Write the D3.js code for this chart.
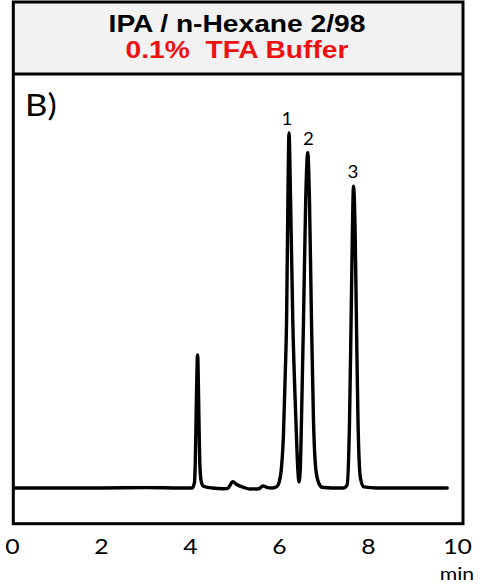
<!DOCTYPE html>
<html>
<head>
<meta charset="utf-8">
<script src="https://cdn.jsdelivr.net/npm/d3@7"></script>
<style>
  body { margin: 0; background: #fff; }
  svg { display: block; }
</style>
</head>
<body>
<main></main>
<script>
// chromatogram trace (min, signal)
const time = [0.07, 1.0, 2.0, 3.0, 3.8, 4.05, 4.10, 4.12, 4.14, 4.16, 4.17, 4.18, 4.20, 4.22, 4.25, 4.30,
  4.5, 4.75, 4.85, 4.92, 4.96, 5.05, 5.2, 5.35, 5.55, 5.64, 5.72, 5.85, 5.95, 6.0, 6.05, 6.10, 6.14, 6.17,
  6.20, 6.225, 6.26, 6.31, 6.38, 6.42, 6.45, 6.48, 6.505, 6.55, 6.60, 6.645, 6.685, 6.73, 6.775, 6.83,
  6.9, 6.97, 7.2, 7.45, 7.53, 7.585, 7.62, 7.65, 7.674, 7.71, 7.74, 7.775, 7.83, 7.91, 8.2, 9.0, 9.78];
const signal = [0, 0, 0, 0.1, 0, 0, 1.5, 8, 22, 35, 37.5, 35, 20, 7, 2, 0.5,
  0, -0.2, -0.1, 1.2, 1.8, 1.0, 0.2, -0.3, -0.2, 0.6, 0.2, 0, 0.4, 1.5, 5, 15, 32, 47,
  81, 100, 81, 47, 19, 6, 1.7, 6, 19, 47, 81, 94.4, 81, 47, 19, 5,
  1.2, 0.2, 0, 0, 0.8, 19, 47, 72.7, 85, 72.7, 47, 19, 2.8, 0.3, 0, 0, 0];

const peakNames = ["1", "2", "3"];
const peakTimes = [6.18, 6.66, 7.66];
const peakHeights = [100, 94.4, 85];

const xTicks = [0, 2, 4, 6, 8, 10];
const titleLine1 = "IPA / n-Hexane 2/98";
const titleLine2 = "0.1%\u00a0 TFA Buffer";
const panelLabel = "B)";
const unitLabel = "min";

const w = 484, h = 587;
const stretch = 1.2; // the picture is drawn a bit wide, so are its letters

const svg = d3.select("main").append("svg")
  .attr("width", w)
  .attr("height", h);

const xScale = d3.scaleLinear().domain([0, 10]).range([12, 457]);
const yScale = d3.scaleLinear().domain([-10, 116.6]).range([523.5, 74]);

// header band
svg.append("rect")
  .attr("x", 13.3).attr("y", 2)
  .attr("width", 449.7).attr("height", 72)
  .attr("fill", "#f2f2f2");

// outer frame + separator
svg.append("rect")
  .attr("x", 13.3).attr("y", 2)
  .attr("width", 449.7).attr("height", 521.7)
  .attr("fill", "none")
  .attr("stroke", "#000")
  .attr("stroke-width", 3);
svg.append("line")
  .attr("x1", 13.3).attr("x2", 463)
  .attr("y1", 74).attr("y2", 74)
  .attr("stroke", "#000")
  .attr("stroke-width", 3);

// titles
const title = svg.append("g").attr("transform", "translate(237,0)");
title.append("text")
  .attr("transform", `translate(0,32) scale(${stretch},1)`)
  .attr("text-anchor", "middle")
  .style("font-family", "'Liberation Sans', Arial, sans-serif")
  .style("font-weight", "bold")
  .style("font-size", "23.5px")
  .attr("fill", "#000")
  .text(titleLine1);
title.append("text")
  .attr("transform", `translate(0,57.5) scale(${stretch},1)`)
  .attr("text-anchor", "middle")
  .style("font-family", "'Liberation Sans', Arial, sans-serif")
  .style("font-weight", "bold")
  .style("font-size", "23.5px")
  .attr("fill", "#ee1111")
  .text(titleLine2);

// panel label
svg.append("text")
  .attr("transform", `translate(25,116) scale(1.12,1)`)
  .style("font-family", "Lato, sans-serif")
  .style("font-size", "31px")
  .attr("fill", "#000")
  .text(panelLabel);

// trace
const data = time.map((t, i) => ({ t: t, s: signal[i] }));
const line = d3.line()
  .x(d => xScale(d.t))
  .y(d => yScale(d.s))
  .curve(d3.curveMonotoneX);

svg.append("path")
  .datum(data)
  .attr("d", line)
  .attr("fill", "none")
  .attr("stroke", "#000")
  .attr("stroke-width", 3.4)
  .attr("stroke-linejoin", "round")
  .attr("stroke-linecap", "round");

// peak numbers
svg.selectAll(".peak")
  .data(peakNames)
  .enter()
  .append("text")
  .attr("class", "peak")
  .attr("transform", (d, i) =>
    `translate(${xScale(peakTimes[i])},${yScale(peakHeights[i]) - 8}) scale(1.1,1)`)
  .attr("text-anchor", "middle")
  .style("font-family", "Lato, sans-serif")
  .style("font-size", "17px")
  .attr("fill", "#000")
  .text(d => d);

// x axis below the frame
const xAxis = svg.append("g")
  .attr("transform", "translate(0,523)")
  .call(d3.axisBottom(xScale).tickValues(xTicks).tickSize(0).tickPadding(16));
xAxis.select(".domain").remove();
xAxis.selectAll("text")
  .attr("transform", `scale(${stretch - 0.02},1)`)
  .style("font-family", "Lato, sans-serif")
  .style("font-size", "21px")
  .attr("fill", "#000");

svg.append("text")
  .attr("transform", `translate(457,580) scale(${stretch - 0.02},1)`)
  .attr("text-anchor", "middle")
  .style("font-family", "Lato, sans-serif")
  .style("font-size", "18px")
  .attr("fill", "#000")
  .text(unitLabel);
</script>
</body>
</html>
